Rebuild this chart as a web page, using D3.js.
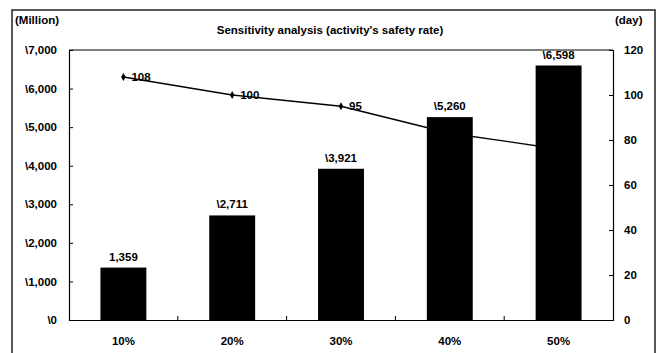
<!DOCTYPE html>
<html>
<head>
<meta charset="utf-8">
<script src="https://cdn.jsdelivr.net/npm/d3@7"></script>
<style>
  html, body { margin: 0; padding: 0; background: #fff; }
  text { font-family: "Liberation Sans", Arial, sans-serif; font-weight: bold; fill: #000; }
</style>
</head>
<body>
<svg id="chart" width="662" height="353"></svg>
<script>
// Sensitivity analysis: cost (bars, left axis) and duration (line, right axis)
const categories = ["10%", "20%", "30%", "40%", "50%"];
const costValues = [1359, 2711, 3921, 5260, 6598];      // Million
const costPrefixes = ["", "\\", "\\", "\\", "\\"];
const dayValues = [108, 100, 95, 83, 76];                // day
const leftTicks = [0, 1000, 2000, 3000, 4000, 5000, 6000, 7000];
const rightTicks = [0, 20, 40, 60, 80, 100, 120];

const W = 662, H = 353;
const margin = { top: 50, right: 49, bottom: 33, left: 69 };
const innerW = W - margin.left - margin.right;
const innerH = H - margin.top - margin.bottom;

const svg = d3.select("#chart");

// outer frame
svg.append("rect")
  .attr("x", 12).attr("y", 10).attr("width", 643).attr("height", 360)
  .attr("fill", "none").attr("stroke", "#222").attr("stroke-width", 1.5);

svg.append("text").attr("x", 330).attr("y", 34)
  .attr("text-anchor", "middle").style("font-size", "11.5px")
  .text("Sensitivity analysis (activity's safety rate)");
svg.append("text").attr("x", 15).attr("y", 24)
  .style("font-size", "11.5px").text("(Million)");
svg.append("text").attr("x", 615).attr("y", 24)
  .style("font-size", "11.5px").text("(day)");

const g = svg.append("g").attr("transform", `translate(${margin.left},${margin.top})`);

const x = d3.scaleBand().domain(categories).range([0, innerW])
  .paddingInner(0.578).paddingOuter(0.289);
const yL = d3.scaleLinear().domain([0, 7000]).range([innerH, 0]);
const yR = d3.scaleLinear().domain([0, 120]).range([innerH, 0]);

// plot frame (top line)
g.append("line").attr("x1", 0).attr("x2", innerW).attr("y1", 0).attr("y2", 0)
  .attr("stroke", "#000").attr("stroke-width", 1);

// left axis
const leftAxis = g.append("g")
  .call(d3.axisLeft(yL).tickValues(leftTicks).tickSize(-4).tickPadding(12)
    .tickFormat(d => "\\" + d3.format(",")(d)));
leftAxis.selectAll("text").style("font-size", "11.5px");

// right axis
const rightAxis = g.append("g").attr("transform", `translate(${innerW},0)`)
  .call(d3.axisRight(yR).tickValues(rightTicks).tickSize(-4).tickPadding(11));
rightAxis.selectAll("text").style("font-size", "11.5px");

// bottom axis with ticks at category boundaries
const bottomAxis = g.append("g").attr("transform", `translate(0,${innerH})`)
  .call(d3.axisBottom(x).tickSize(0).tickPadding(17));
bottomAxis.selectAll("text").style("font-size", "11.5px");
g.selectAll(".boundary").data(categories.slice(1)).join("line")
  .attr("class", "boundary")
  .attr("x1", d => x(d) - x.step() * x.paddingInner() / 2)
  .attr("x2", d => x(d) - x.step() * x.paddingInner() / 2)
  .attr("y1", innerH).attr("y2", innerH - 4)
  .attr("stroke", "#000");

g.selectAll(".domain").attr("stroke", "#000").attr("stroke-width", 1.2);

// duration line (drawn beneath the bars)
const line = d3.line()
  .x((d, i) => x(categories[i]) + x.bandwidth() / 2)
  .y(d => yR(d));
g.append("path").datum(dayValues)
  .attr("d", line).attr("fill", "none").attr("stroke", "#000").attr("stroke-width", 1.3);
g.selectAll(".marker").data(dayValues).join("path")
  .attr("class", "marker")
  .attr("transform", (d, i) => `translate(${x(categories[i]) + x.bandwidth() / 2},${yR(d)})`)
  .attr("d", d3.symbol(d3.symbolDiamond, 18));
g.selectAll(".dayLabel").data(dayValues).join("text")
  .attr("class", "dayLabel")
  .attr("x", (d, i) => x(categories[i]) + x.bandwidth() / 2 + 8)
  .attr("y", d => yR(d) + 4)
  .style("font-size", "11.5px")
  .text(d => d);

// cost bars
g.selectAll(".bar").data(costValues).join("rect")
  .attr("class", "bar")
  .attr("x", (d, i) => x(categories[i]))
  .attr("width", x.bandwidth())
  .attr("y", d => yL(d))
  .attr("height", d => innerH - yL(d))
  .attr("fill", "#000");

g.selectAll(".costLabel").data(costValues).join("text")
  .attr("class", "costLabel")
  .attr("x", (d, i) => x(categories[i]) + x.bandwidth() / 2)
  .attr("y", d => yL(d) - 7)
  .attr("text-anchor", "middle")
  .style("font-size", "11.5px")
  .text((d, i) => costPrefixes[i] + d3.format(",")(d));
</script>
</body>
</html>
